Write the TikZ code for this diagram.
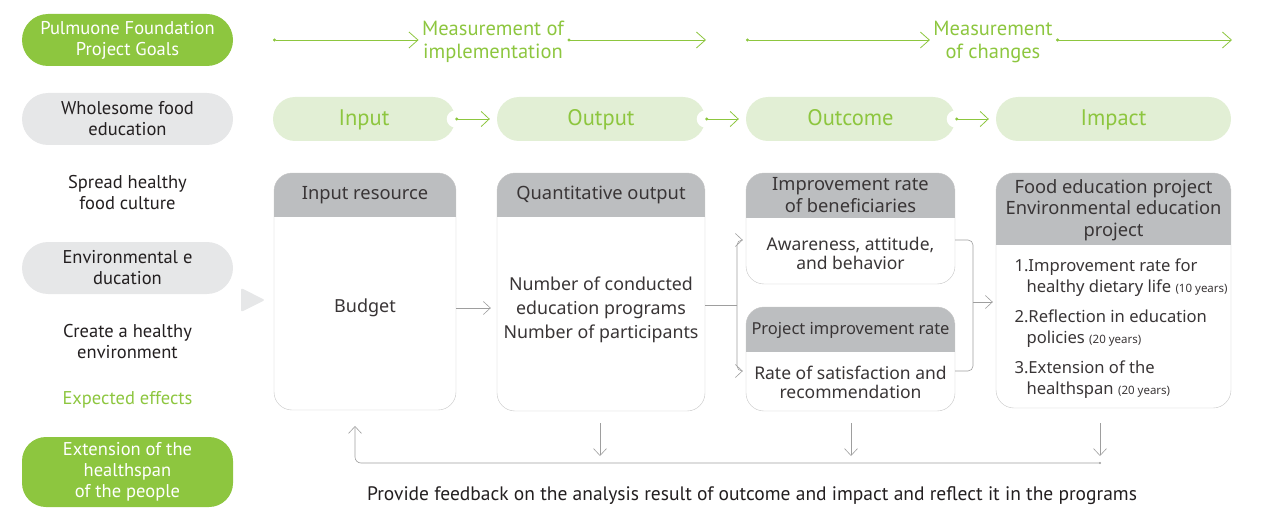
\documentclass[tikz,border=0pt]{standalone}
\usepackage{fontspec}
\setmainfont{PT Sans}
\newfontfamily\boxfont{Noto Sans}
\usetikzlibrary{arrows.meta, positioning}

\definecolor{leaf}{HTML}{8DC63F}
\definecolor{leaflight}{HTML}{E2EFD5}
\definecolor{pillgray}{HTML}{E6E7E8}
\definecolor{hdgray}{HTML}{BCBEC0}
\definecolor{linegray}{HTML}{C6C6C6}
\definecolor{ink}{HTML}{231F20}

\tikzset{
  pill/.style={rounded corners=26pt, minimum width=211pt, minimum height=52pt,
    inner sep=0pt, align=center, font=\fontsize{18.5}{21}\selectfont},
  sidetext/.style={align=center, text=ink, font=\fontsize{18.5}{21}\selectfont},
  phase/.style={fill=leaflight, rounded corners=22pt, minimum height=44pt,
    inner sep=0pt, text height=17pt, text depth=3pt, text=leaf, font=\fontsize{22.5}{24}\selectfont},
  measure/.style={align=center, text=leaf, font=\fontsize{20.5}{23}\selectfont},
  box/.style={draw=linegray, fill=white, rounded corners=18pt, inner sep=0pt},
  hdr/.style={path picture={\fill[hdgray, sharp corners] (path picture bounding box.north west)
    rectangle ([yshift=-#1]path picture bounding box.north east);}},
  hdtext/.style={align=center, text=ink!90, font=\boxfont\fontsize{18.3}{21.5}\selectfont},
  bodytext/.style={align=center, text=ink!90, font=\boxfont\fontsize{17.5}{19}\selectfont},
  greenarrow/.style={draw=leaf, line width=0.8pt, {Circle[length=3pt]}-{Straight Barb[length=9pt,width=16pt]}},
  grayarrow/.style={draw=linegray!80!black, line width=0.6pt, -{Straight Barb[length=7pt,width=13pt]}},
  grayline/.style={draw=linegray!80!black, line width=0.6pt},
}

\begin{document}
\begin{tikzpicture}[x=1pt, y=-1pt]
\useasboundingbox (0,0) rectangle (1261,508);

% Left column
\node[pill, fill=leaf, text=white] (goals) at (127.5,40) {Pulmuone Foundation\\Project Goals};
\node[pill, fill=pillgray, text=ink] (food) at (127.5,119) {Wholesome food\\education};
\node[sidetext] (spread) at (127.5,193) {Spread healthy\\food culture};
\node[pill, fill=pillgray, text=ink] (enved) at (127.5,268) {Environmental e\\ducation};
\node[sidetext] (create) at (127.5,342) {Create a healthy\\environment};
\node[sidetext, text=leaf] (expect) at (127.5,400) {Expected effects};
\node[pill, fill=leaf, text=white, minimum height=70pt, rounded corners=24pt] (people) at (127.5,472)
  {Extension of the\\healthspan\\of the people};
\fill[pillgray, rounded corners=2pt] (241,288) -- (265,300) -- (241,312) -- cycle;

% Measurement row
\coordinate (m1start) at (273,40);
\coordinate (m1end) at (706,40);
\coordinate (m2start) at (746,40);
\coordinate (m2end) at (1232,40);
\node[measure] (implement) at (493,41.5) {Measurement of\\implementation};
\node[measure] (changes) at (993,41.5) {Measurement\\of changes};
\draw[greenarrow] (m1start) -- (m1start -| implement.west);
\draw[greenarrow] (m1end -| implement.east) -- (m1end);
\draw[greenarrow] (m2start) -- (m2start -| changes.west);
\draw[greenarrow] (m2end -| changes.east) -- (m2end);

% Phases
\node[phase, minimum width=182pt] (input) at (364,119) {Input};
\node[phase, minimum width=208pt] (output) at (601,119) {Output};
\node[phase, minimum width=209pt] (outcome) at (850.5,119) {Outcome};
\node[phase, minimum width=235pt] (impact) at (1113.5,119) {Impact};
\foreach \p/\q in {input/output, output/outcome, outcome/impact} {
  \fill[white] (\p.east) circle (8.5pt);
  \draw[greenarrow, shorten >=7pt, {Circle[length=3pt]}-{Straight Barb[length=8pt,width=15pt]}]
    (\p.east) -- (\q.west);
}

% Boxes
\node[box, hdr=44pt, minimum width=182pt, minimum height=237pt] (inbox) at (365,291.5) {};
\node[box, hdr=44pt, minimum width=208pt, minimum height=238pt] (outbox) at (601,292) {};
\node[box, hdr=45pt, minimum width=209pt, minimum height=111pt] (benbox) at (850.5,228.5) {};
\node[box, hdr=45pt, minimum width=209pt, minimum height=104pt] (satbox) at (850.5,359) {};
\node[box, hdr=72pt, minimum width=235pt, minimum height=235pt] (impbox) at (1113.5,290.5) {};

\node[hdtext] (inhead) at (365,195) {Input resource};
\node[bodytext, font=\boxfont\fontsize{18}{20}\selectfont] (budget) at (365,308) {Budget};
\node[hdtext] (outhead) at (601,195) {Quantitative output};
\node[bodytext, font=\boxfont\fontsize{17.8}{24}\selectfont] (counts) at (601,310)
  {Number of conducted\\education programs\\Number of participants};
\node[hdtext] (benhead) at (850.5,195) {Improvement rate\\of beneficiaries};
\node[bodytext] (aware) at (850.5,253) {Awareness, attitude,\\and behavior};
\node[hdtext, font=\boxfont\fontsize{16.5}{20}\selectfont] (sathead) at (850.5,330) {Project improvement rate};
\node[bodytext] (satisf) at (850.5,382) {Rate of satisfaction and\\recommendation};
\node[hdtext] (imphead) at (1113.5,210) {Food education project\\Environmental education\\project};
\node[bodytext, align=left, anchor=north west, font=\boxfont\fontsize{16.6}{21}\selectfont] (goallist) at (1011,255)
  {1.Improvement rate for\\
   \hspace*{12pt}healthy dietary life {\fontsize{11.5}{12}\selectfont(10 years)}\\[9pt]
   2.Reflection in education\\
   \hspace*{12pt}policies {\fontsize{11.5}{12}\selectfont(20 years)}\\[9pt]
   3.Extension of the\\
   \hspace*{12pt}healthspan {\fontsize{11.5}{12}\selectfont(20 years)}};

% Connectors
\coordinate (fork) at (737,305);
\coordinate (merge) at (973,302);
\coordinate (upper) at (737,240);
\coordinate (lower) at (737,371);
\draw[grayarrow, shorten >=6pt] (inbox.east |- budget) -- (outbox.west |- budget);
\draw[grayline] (outbox.east |- fork) -- (fork);
\draw[grayarrow, rounded corners=5pt, shorten >=3pt] (fork) |- (benbox.west |- upper);
\draw[grayarrow, rounded corners=5pt, shorten >=3pt] (fork) |- (satbox.west |- lower);
\draw[grayline, rounded corners=5pt] (benbox.east |- upper) -| (merge) |- (satbox.east |- lower);
\draw[grayarrow, shorten >=3pt] (merge) -- (impbox.west |- merge);

% Feedback
\foreach \b/\x in {outbox/600, benbox/851, impbox/1100} {
  \draw[grayarrow] (\x,423) -- (\x,456);
}
\coordinate (fbend) at (1100,463);
\coordinate (fbtip) at (355,426);
\draw[grayarrow, rounded corners=6pt] (fbend) -| (fbtip);
\fill[linegray!80!black] (fbend) circle (1.2pt);
\node[sidetext, font=\fontsize{19.5}{21}\selectfont] (feedback) at (752,496)
  {Provide feedback on the analysis result of outcome and impact and reflect it in the programs};
\end{tikzpicture}
\end{document}
